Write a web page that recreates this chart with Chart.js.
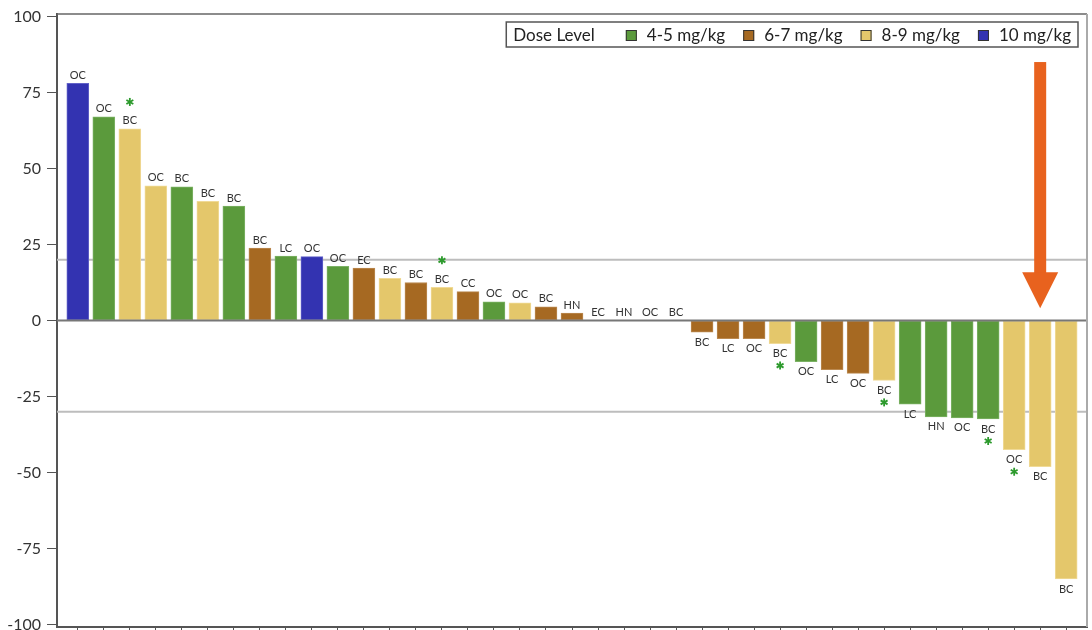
<!DOCTYPE html>
<html>
<head>
<meta charset="utf-8">
<script src="https://cdn.jsdelivr.net/npm/chart.js@4.4.1/dist/chart.umd.min.js"></script>
<style>
  body { margin: 0; background: #fff; }
  #wrap { width: 1092px; height: 630px; position: relative; }
</style>
</head>
<body>
<div id="wrap"><canvas id="chart"></canvas></div>
<script>
// tumour type shown on each bar
const tumorTypes = ['OC', 'OC', 'BC', 'OC', 'BC', 'BC', 'BC', 'BC', 'LC', 'OC',
    'OC', 'EC', 'BC', 'BC', 'BC', 'CC', 'OC', 'OC', 'BC', 'HN',
    'EC', 'HN', 'OC', 'BC', 'BC', 'LC', 'OC', 'BC', 'OC', 'LC',
    'OC', 'BC', 'LC', 'HN', 'OC', 'BC', 'OC', 'BC', 'BC'];
// best % change per patient
const changeValues = [78, 67, 63, 44.3, 44, 39.2, 37.6, 23.8, 21.2, 21,
    17.8, 17.2, 13.9, 12.5, 10.9, 9.5, 6.1, 5.8, 4.5, 2.4,
    0, 0, 0, 0, -3.8, -6, -6, -7.6, -13.5, -16.2,
    -17.4, -19.7, -27.5, -31.7, -32, -32.4, -42.5, -48.1, -85];
// index into doseLabels
const doseLevels = [3, 0, 2, 2, 0, 2, 0, 1, 0, 3,
    0, 1, 2, 1, 2, 1, 0, 2, 1, 1,
    1, 1, 1, 1, 1, 1, 1, 2, 0, 1,
    1, 2, 0, 0, 0, 0, 2, 2, 2];
const starredBars = [2, 14, 27, 31, 35, 36];
const doseLabels = ['4-5 mg/kg', '6-7 mg/kg', '8-9 mg/kg', '10 mg/kg'];
const doseColors = ['#5b9a3c', '#a66922', '#e4c76b', '#3333b1'];
const doseBorders = ['#7cb265', '#bb8a52', '#f0da97', '#6262c8'];
const yTicks = [-100, -75, -50, -25, 0, 25, 50, 75, 100];
const refLines = [20, -30];
const arrowBar = 37;
const arrowFrom = 85;
const arrowTo = 4;

const FONT = 'Lato, "Open Sans", sans-serif';

function drawStar(ctx, x, y) {
    ctx.save();
    ctx.strokeStyle = '#2c9a2c';
    ctx.lineWidth = 1.8;
    for (let k = 0; k < 3; k++) {
        const a = Math.PI / 2 + k * Math.PI / 3;
        ctx.beginPath();
        ctx.moveTo(x - 4 * Math.cos(a), y - 4 * Math.sin(a));
        ctx.lineTo(x + 4 * Math.cos(a), y + 4 * Math.sin(a));
        ctx.stroke();
    }
    ctx.restore();
}

const overlay = {
    id: 'overlay',
    beforeDatasetsDraw(chart) {
        const { ctx, chartArea, scales } = chart;
        ctx.save();
        ctx.strokeStyle = '#bdbdbd';
        ctx.lineWidth = 2;
        refLines.forEach((v) => {
            const y = scales.y.getPixelForValue(v);
            ctx.beginPath();
            ctx.moveTo(chartArea.left, y);
            ctx.lineTo(chartArea.right, y);
            ctx.stroke();
        });
        ctx.restore();
    },
    afterDatasetsDraw(chart) {
        const { ctx, chartArea, scales } = chart;
        const xs = scales.x, ys = scales.y;
        ctx.save();

        // zero line
        const y0 = ys.getPixelForValue(0);
        ctx.strokeStyle = '#777';
        ctx.lineWidth = 2;
        ctx.beginPath();
        ctx.moveTo(chartArea.left, y0);
        ctx.lineTo(chartArea.right, y0);
        ctx.stroke();

        // tumour labels and stars
        ctx.font = '11px ' + FONT;
        ctx.fillStyle = '#333';
        ctx.textAlign = 'center';
        ctx.textBaseline = 'middle';
        changeValues.forEach((v, i) => {
            const x = xs.getPixelForValue(i);
            const yv = ys.getPixelForValue(v);
            const ly = v >= 0 ? yv - 8 : yv + 10;
            ctx.fillText(tumorTypes[i], x, ly);
            if (starredBars.includes(i)) {
                drawStar(ctx, x, v >= 0 ? ly - 19 : ly + 12);
            }
        });

        // arrow
        const ax = xs.getPixelForValue(arrowBar);
        const aTop = ys.getPixelForValue(arrowFrom);
        const aTip = ys.getPixelForValue(arrowTo);
        ctx.fillStyle = '#e8621e';
        ctx.fillRect(ax - 6, aTop, 12, aTip - aTop - 35);
        ctx.beginPath();
        ctx.moveTo(ax - 18, aTip - 36);
        ctx.lineTo(ax + 18, aTip - 36);
        ctx.lineTo(ax, aTip);
        ctx.closePath();
        ctx.fill();

        // frame
        ctx.lineWidth = 1.5;
        ctx.strokeStyle = '#666';
        ctx.beginPath();
        ctx.moveTo(chartArea.left, chartArea.top);
        ctx.lineTo(chartArea.right, chartArea.top);
        ctx.stroke();
        ctx.strokeStyle = '#aaa';
        ctx.lineWidth = 2;
        ctx.beginPath();
        ctx.moveTo(chartArea.right, chartArea.top);
        ctx.lineTo(chartArea.right, chartArea.bottom);
        ctx.stroke();

        // legend box
        ctx.font = '17px ' + FONT;
        ctx.textAlign = 'left';
        const title = 'Dose Level';
        const sq = 11;
        let w = 7 + ctx.measureText(title).width + 31;
        doseLabels.forEach((lab, i) => {
            w += sq + 10 + ctx.measureText(lab).width + (i < doseLabels.length - 1 ? 18 : 7);
        });
        const bx = chartArea.right - 9 - w;
        const by = chartArea.top + 8;
        const bh = 25;
        ctx.fillStyle = '#fff';
        ctx.fillRect(bx, by, w, bh);
        ctx.strokeStyle = '#555';
        ctx.lineWidth = 1.5;
        ctx.strokeRect(bx, by, w, bh);
        const cy = by + bh / 2 + 1;
        let cx = bx + 7;
        ctx.fillStyle = '#222';
        ctx.fillText(title, cx, cy);
        cx += ctx.measureText(title).width + 31;
        doseLabels.forEach((lab, i) => {
            ctx.fillStyle = doseColors[i];
            ctx.fillRect(cx, cy - sq / 2, sq, sq);
            ctx.strokeStyle = '#333';
            ctx.lineWidth = 1;
            ctx.strokeRect(cx + 0.5, cy - sq / 2 + 0.5, sq - 1, sq - 1);
            cx += sq + 10;
            ctx.fillStyle = '#222';
            ctx.fillText(lab, cx, cy);
            cx += ctx.measureText(lab).width + 18;
        });
        ctx.restore();
    }
};

new Chart(document.getElementById('chart'), {
    type: 'bar',
    data: {
        datasets: [{
            data: changeValues.map((v, i) => ({ x: i, y: v })),
            backgroundColor: doseLevels.map((d) => doseColors[d]),
            borderColor: doseLevels.map((d) => doseBorders[d]),
            borderWidth: 1,
            borderSkipped: false,
            barThickness: 22
        }]
    },
    options: {
        responsive: true,
        maintainAspectRatio: false,
        animation: false,
        layout: { padding: { top: 14, right: 5, bottom: 0, left: 0 } },
        plugins: { legend: { display: false }, tooltip: { enabled: false } },
        scales: {
            x: {
                type: 'linear',
                offset: false,
                min: -0.8,
                max: 38.8,
                afterBuildTicks: (s) => { s.ticks = changeValues.map((_, i) => ({ value: i })); },
                afterFit: (s) => { s.height = 3; s.paddingLeft = 0; s.paddingRight = 0; },
                ticks: { display: false },
                grid: { offset: false, drawOnChartArea: false, drawTicks: true, tickLength: 3, color: '#555' },
                border: { display: true, color: '#555', width: 2 }
            },
            y: {
                min: -100.8,
                max: 100.8,
                afterBuildTicks: (s) => { s.ticks = yTicks.map((v) => ({ value: v })); },
                afterFit: (s) => { s.width = 57; s.paddingTop = 0; s.paddingBottom = 0; },
                ticks: {
                    padding: 6,
                    color: '#333',
                    font: { family: FONT, size: 16 },
                    callback: (v) => String(v)
                },
                grid: { drawOnChartArea: false, drawTicks: true, tickLength: 10, color: '#555' },
                border: { display: true, color: '#555', width: 2 }
            }
        }
    },
    plugins: [overlay]
});
</script>
</body>
</html>
